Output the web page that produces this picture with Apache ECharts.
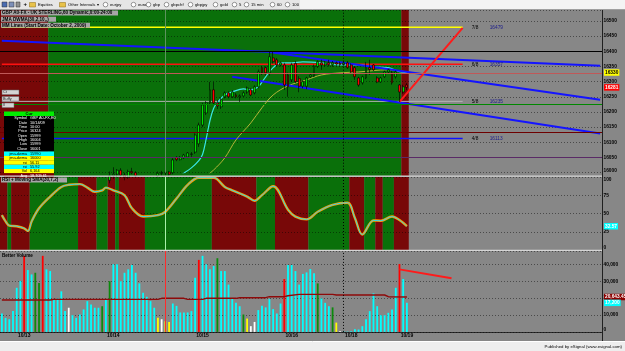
<!DOCTYPE html>
<html>
<head>
<meta charset="utf-8">
<title>GBP A0-FX</title>
<script src="https://cdn.jsdelivr.net/npm/echarts@6/dist/echarts.min.js"></script>
<style>
html, body { margin: 0; padding: 0; background: #878787; }
#main { width: 625px; height: 351px; }
</style>
</head>
<body>
<div id="main"></div>
<script>
// ---------- values ----------
var slotCount = 162;                       // bar slots across the plot (empty on the right)
var dayIdx = [6, 30, 54, 78, 94, 109];
var dayLabels = ['10/13', '10/14', '10/15', '10/16', '10/18', '10/19'];

// candles from bar 28 on: [open, close, low, high]
var candleStart = 28;
var candles = [
	[15960, 15975, 15950, 15990], [15975, 15990, 15965, 16004], [15990, 15995, 15980, 16018],
	[15995, 16008, 15985, 16012], [16008, 15992, 15988, 16015], [15992, 15985, 15975, 16000],
	[15985, 16004, 15980, 16010], [16004, 16000, 15995, 16016], [16000, 15990, 15985, 16005],
	[15990, 15980, 15970, 15998], [15980, 15985, 15960, 15992], [15985, 15975, 15970, 15995],
	[15975, 15985, 15965, 15990], [15985, 15990, 15975, 15998], [15990, 15998, 15985, 16004],
	[15998, 16000, 15990, 16006], [16000, 16002, 15992, 16008], [16002, 15995, 15990, 16006],
	[16000, 16042, 15995, 16048], [16050, 16043, 16038, 16055], [16043, 16050, 16040, 16055],
	[16049, 16058, 16045, 16062], [16052, 16065, 16048, 16068], [16060, 16062, 16052, 16068],
	[16068, 16124, 16062, 16130], [16095, 16157, 16085, 16165], [16157, 16223, 16150, 16230],
	[16197, 16230, 16190, 16236], [16230, 16273, 16225, 16299], [16273, 16230, 16223, 16299],
	[16230, 16220, 16210, 16240], [16217, 16240, 16210, 16248], [16250, 16263, 16245, 16268],
	[16263, 16250, 16245, 16268], [16250, 16266, 16246, 16272], [16256, 16250, 16245, 16262],
	[16250, 16253, 16233, 16258], [16253, 16263, 16250, 16268], [16266, 16279, 16260, 16284],
	[16273, 16256, 16252, 16278], [16263, 16283, 16258, 16288], [16283, 16332, 16278, 16340],
	[16346, 16329, 16322, 16352], [16346, 16329, 16320, 16350], [16329, 16382, 16320, 16398],
	[16378, 16366, 16360, 16398], [16372, 16355, 16350, 16378], [16355, 16362, 16350, 16366],
	[16355, 16289, 16273, 16362], [16322, 16283, 16250, 16330], [16306, 16355, 16299, 16362],
	[16360, 16300, 16295, 16368], [16310, 16285, 16265, 16318], [16285, 16300, 16278, 16305],
	[16285, 16312, 16275, 16316], [16316, 16322, 16312, 16326], [16318, 16350, 16315, 16356],
	[16350, 16366, 16345, 16370], [16362, 16355, 16339, 16372], [16355, 16362, 16350, 16368],
	[16362, 16356, 16350, 16372], [16356, 16362, 16349, 16368], [16362, 16358, 16352, 16366],
	[16360, 16356, 16350, 16366], [16356, 16362, 16352, 16366], [16362, 16346, 16342, 16368],
	[16355, 16332, 16328, 16360], [16346, 16316, 16306, 16350], [16312, 16289, 16283, 16316],
	[16296, 16316, 16290, 16320], [16312, 16346, 16308, 16365], [16346, 16340, 16322, 16372],
	[16355, 16339, 16335, 16358], [16312, 16299, 16295, 16318], [16299, 16312, 16296, 16316],
	[16316, 16332, 16312, 16336], [16332, 16339, 16328, 16342], [16329, 16296, 16290, 16335],
	[16316, 16332, 16310, 16336], [16289, 16266, 16233, 16292], [16266, 16283, 16260, 16290],
	[16289, 16281, 16272, 16295]
];

// JMA / DWMA curves, [bar, price] knots
var jmaFast = [[46, 15970], [48, 15990], [51, 16016], [53, 16040], [54, 16060], [55, 16112], [56, 16172],
	[57, 16212], [58, 16232], [60, 16256], [62, 16266], [65, 16276], [67, 16273], [69, 16283], [71, 16316],
	[73, 16346], [75, 16362], [78, 16362], [81, 16365], [86, 16362], [91, 16355], [96, 16355], [100, 16349],
	[104, 16346], [107, 16333], [109, 16330]];
var dwmaSlow = [[52, 15960], [55, 15989], [57, 16009], [60, 16049], [63, 16108], [67, 16164], [70, 16214],
	[73, 16256], [77, 16286], [82, 16306], [86, 16322], [91, 16329], [96, 16332], [104, 16339], [109, 16332]];

// hand drawn lines, [bar, price]
var trendA = [[0, 16435], [161, 16352]];
var trendB = [[72, 16398], [161, 16240]];
var trendC = [[62, 16316], [161, 16129]];
var redArrow = [[107, 16233], [124, 16477]];

// Murrey math levels
var mmNames = ['7/8', '6/8', '5/8', '4/8'];
var mmValues = [16479, 16357, 16235, 16113];
var mmEnd = 124;

// full width levels
var pivotValues = [16400, 16328, 16226, 16133, 16051];

// background state runs [fromBar, toBar (excl), state]
var priceBgRuns = [[0, 13, 'r'], [13, 108, 'g'], [108, 110, 'r']];
var rsiBgRuns = [[0, 2, 'r'], [2, 3, 'g'], [3, 8, 'r'], [8, 21, 'g'], [21, 26, 'r'], [26, 29, 'g'],
	[29, 31, 'r'], [31, 32, 'g'], [32, 39, 'r'], [39, 57, 'g'], [57, 69, 'r'], [69, 74, 'g'], [74, 83, 'r'],
	[83, 94, 'g'], [94, 98, 'r'], [98, 101, 'g'], [101, 103, 'r'], [103, 106, 'g'], [106, 110, 'r']];

// RSI, [bar, value]
var rsi = [[0, 47.7], [1, 39.2], [2, 33.5], [4, 32.6], [6, 29.7], [7, 25.9], [8, 39], [10, 57.1], [13, 73.2],
	[16, 86.4], [18, 89.3], [21, 90.2], [23, 85.5], [25, 79.8], [27, 81.7], [28, 85.5], [30, 81.7], [33, 75.1],
	[35, 57.1], [38, 45.8], [42, 47.7], [44, 52.4], [47, 70.4], [50, 89.3], [53, 99], [57, 99], [60, 86.4],
	[62, 81.7], [66, 73.2], [68, 67.5], [70, 75.1], [73, 87.4], [77, 55.2], [79, 45.8], [82, 42], [85, 52.4],
	[89, 61.8], [93, 64.7], [95, 43.9], [97, 21.2], [100, 40.5], [102, 40.1], [105, 45.8], [107, 41], [109, 32.57]];

// Better Volume, one value per bar
var volume = [
	10900, 8300, 7500, 12300, 26100, 30100, 45000, 36600, 34000, 35000,
	29000, 45000, 37000, 36000, 19000, 19800, 24000, 12300, 14300, 9900,
	8300, 10300, 13300, 18200, 16200, 14300, 14300, 15200, 19200, 30000,
	40000, 40000, 30000, 35000, 37000, 39600, 35000, 28700, 23200, 20800,
	18200, 14300, 8300, 7500, 6300, 5900, 16800, 15400, 11500, 11500,
	11500, 12300, 32000, 42600, 45000, 40000, 37000, 39000, 43600, 36000,
	36000, 28000, 20000, 17200, 15200, 10300, 7900, 3400, 5900, 12900,
	15400, 14500, 19400, 13500, 10900, 16800, 31300, 39600, 39600, 36000,
	28000, 34300, 35200, 37200, 34700, 28700, 19800, 17200, 15200, 14500,
	5500, 400, 300, 200, 400, 1600, 1400, 3400, 7500, 12300,
	22800, 15200, 9900, 9900, 11300, 13300, 26100, 40200, 31300, 17200
];
// bar kind: c normal, r red, g green, w white, y yellow
var volKinds = 'ccccccrccg' + 'grccccccwc' + 'cccccccgcg' + 'cccccccccc' + 'ccywyycccc' +
	'cccrccccgc' + 'cccccgywwc' + 'ccccccrccc' + 'cccccgcccg' + 'ywcccccccc' + 'cccccccrcc';
var volAvg = [[0, 18880], [13, 18880], [14, 19270], [42, 19270], [43, 19870], [49, 19870], [50, 19270],
	[54, 19270], [55, 19870], [63, 19870], [64, 20240], [71, 20240], [72, 20830], [76, 20830], [77, 21420],
	[80, 22200], [89, 22200], [90, 21830], [103, 21830], [104, 20830], [109, 20643.45]];
var volArrow = [[107, 37000], [121, 31800]];

// texts
var toolbarItems = ['Equities', 'Other Intervals \u25be', 'eurjpy', 'euro', 'gbp', 'gbpchf', 'gbpjpy', 'gold', '5', '15 min', '60', '100'];
var priceTitles = ['GBP A0-FX - UK STERLING,60 Dynamic,0:00-24:00', 'JMA DWMA(30,2,10,,)', 'MM Lines (Start Date: October 2, 2009)'];
var dwRows = [['Symbol', 'GBP A0-FX,E0'], ['Date', '10/14/09'], ['Time', '10:00'], ['Price', '16324'],
	['Open', '15999'], ['High', '16004'], ['Low', '15999'], ['Close', '16001']];
var dwStudies = [['jma-dwma', '15990'], ['jma-dwma', '16000'], ['rsi', '56.11'], ['rsi', '55.92'], ['Vol', '6,164'], ['Avg', '18,709.61']];

// ---------- layout / styles ----------
var W = 602;
var PRICE_TOP = 10, PRICE_BOTTOM = 176, PRICE_H = 162.7;
var RSI_TOP = 177, RSI_H = 73;
var VOL_TOP = 251, VOL_H = 80.9;
var FONT = 'Liberation Sans';
var bgColor = { r: '#780808', g: '#0a700a' };
var volColors = { c: '#00ffff', r: '#ff0000', g: '#0b8a0b', w: '#ffffff', y: '#ffff00' };
var mmColors = ['#ffff00', '#ff1010', '#b4b4b4', '#1010ff'];
var pivotColors = ['#000000', '#c05858', '#008800', '#6e0000', '#5a2a66'];
var studyFill = ['#00ffff', '#ffff00', '#ffff00', '#00ffff', '#ffff00', '#7a0000'];

var cats = [];
for (var i = 0; i < slotCount; i++) cats.push(String(i));

function xAxisFor(gi, showLabels) {
	return {
		type: 'category', gridIndex: gi, data: cats, boundaryGap: true,
		axisLine: { show: showLabels, lineStyle: { color: '#2a2a2a' } },
		axisTick: { show: false },
		splitLine: { show: false },
		axisLabel: showLabels ? {
			interval: function (idx) { return dayIdx.indexOf(idx) >= 0; },
			formatter: function (v, idx) { var k = dayIdx.indexOf(idx); return k >= 0 ? dayLabels[k] : ''; },
			color: '#000', fontSize: 5, fontWeight: 'bold', fontFamily: FONT, margin: 1.5
		} : { show: false }
	};
}

function yAxisFor(gi, min, max, step, fmt, showMax) {
	return {
		type: 'value', gridIndex: gi, position: 'right', min: min, max: max, interval: step, z: 1.5,
		axisLine: { show: true, lineStyle: { color: '#1e1e1e' } },
		axisTick: { show: false },
		splitLine: { show: true, lineStyle: { color: '#000', type: [1, 2], width: 0.6, opacity: 0.75 } },
		axisLabel: {
			color: '#000', fontSize: 4.8, fontWeight: 'bold', fontFamily: FONT, margin: 1.5,
			showMaxLabel: showMax, verticalAlignMaxLabel: 'top', verticalAlignMinLabel: 'bottom', formatter: fmt
		}
	};
}

function bgSeries(gi, runs, top, bottom) {
	return {
		type: 'custom', xAxisIndex: gi, yAxisIndex: gi, z: 1, silent: true, clip: false,
		data: runs.map(function (r) { return [r[0], r[1]]; }),
		renderItem: function (params, api) {
			var r = runs[params.dataIndex];
			var band = api.size([1, 0], [r[0], 0])[0];
			var x0 = api.coord([r[0], 0])[0] - band / 2;
			var x1 = api.coord([r[1] - 1, 0])[0] + band / 2;
			return { type: 'rect', shape: { x: x0, y: top, width: x1 - x0, height: bottom - top }, style: { fill: bgColor[r[2]] } };
		}
	};
}

function lineSeries(gi, data, color, width, extra) {
	var s = {
		type: 'line', xAxisIndex: gi, yAxisIndex: gi, data: data, showSymbol: false, silent: true,
		lineStyle: { color: color, width: width }, itemStyle: { color: color }, z: 3
	};
	for (var k in extra) s[k] = extra[k];
	return s;
}

function vLine(idx, color, type) {
	return { xAxis: String(idx), lineStyle: { color: color, width: 1, type: type } };
}

// value tag on the right axis: invisible line, boxed label at its end
function tag(value, text, bg, fg) {
	return {
		yAxis: value, lineStyle: { color: 'rgba(0,0,0,0)', width: 0 },
		label: {
			show: true, position: 'end', distance: 2, opacity: 1, formatter: function () { return text; },
			backgroundColor: bg, color: fg, fontSize: 4.8, fontWeight: 'bold', fontFamily: FONT, padding: [1, 1, 0.5, 1]
		}
	};
}

function fmtThousands(v) { return v.toLocaleString('en-US'); }
function fmtPlain(v) { return String(v); }

var lastClose = candles[candles.length - 1][1];
var lastFast = jmaFast[jmaFast.length - 1][1];
var lastRsi = rsi[rsi.length - 1][1];
var lastVol = volume[volume.length - 1];
var lastAvg = volAvg[volAvg.length - 1][1];

var series = [];
series.push(bgSeries(0, priceBgRuns, PRICE_TOP, PRICE_BOTTOM));
series.push(bgSeries(1, rsiBgRuns, RSI_TOP, RSI_TOP + RSI_H));

// Murrey lines with end labels
mmValues.forEach(function (v, k) {
	series.push(lineSeries(0, [[0, v], [mmEnd, v]], mmColors[k], k === 2 ? 1 : 1.5, {
		endLabel: {
			show: true, distance: 9,
			formatter: function () { return '{a|' + mmNames[k] + '}{b|' + v + '}'; },
			rich: {
				a: { color: '#000', fontSize: 4.8, fontFamily: FONT, width: 18 },
				b: { color: '#1c1c8c', fontSize: 4.8, fontFamily: FONT }
			}
		}
	}));
});

series.push({
	type: 'candlestick', xAxisIndex: 0, yAxisIndex: 0, z: 3, silent: true, barWidth: 2.4,
	encode: { x: 0, y: [1, 2, 3, 4] },
	data: candles.map(function (c, k) { return [candleStart + k].concat(c); }),
	itemStyle: { color: '#00e000', color0: '#ff0000', borderColor: '#000', borderColor0: '#000', borderWidth: 0.6 },
	markLine: {
		silent: true, symbol: ['none', 'none'], animation: false, label: { show: false },
		data: pivotValues.map(function (v, k) {
			return { yAxis: v, lineStyle: { color: pivotColors[k], width: 1, type: 'solid' } };
		}).concat([
			vLine(44, '#5e935e', 'solid'), vLine(92, '#000', [1, 2]),
			tag(lastFast, String(lastFast), '#ffff00', '#000'),
			tag(lastClose, String(lastClose), '#ff0000', '#ffffff')
		])
	}
});
series.push(lineSeries(0, dwmaSlow, '#b4b43a', 1, { smooth: 0.35 }));
series.push(lineSeries(0, jmaFast, '#3ae6e6', 1.2, { smooth: 0.35 }));
series.push(lineSeries(0, trendA, '#1414ff', 2));
series.push(lineSeries(0, trendB, '#1414ff', 2));
series.push(lineSeries(0, trendC, '#1414ff', 2));
series.push(lineSeries(0, redArrow, '#ff1a1a', 2));

// RSI
series.push(lineSeries(1, rsi, '#ff9a00', 2.4, { smooth: 0.35 }));
series.push(lineSeries(1, rsi, '#36d8e6', 1, {
	smooth: 0.35,
	markLine: {
		silent: true, symbol: ['none', 'none'], animation: false, label: { show: false },
		data: [vLine(44, '#a8f0a8', 'solid'), vLine(92, '#000', [1, 2]),
			tag(lastRsi, String(lastRsi), '#00ffff', '#ffffff')]
	}
}));

// Volume
series.push({
	type: 'bar', xAxisIndex: 2, yAxisIndex: 2, z: 3, silent: true, barWidth: 1.8,
	data: volume.map(function (v, k) { return { value: v, itemStyle: { color: volColors[volKinds[k]] } }; }),
	markLine: {
		silent: true, symbol: ['none', 'none'], animation: false, label: { show: false },
		data: [vLine(44, '#ff2a2a', 'solid'), vLine(92, '#000', [1, 2]),
			tag(lastAvg, fmtThousands(lastAvg), '#8b0000', '#ffffff'),
			tag(lastVol, fmtThousands(lastVol), '#00ffff', '#ffffff')]
	}
});
series.push(lineSeries(2, volAvg, '#8e0a0a', 1.4));
series.push(lineSeries(2, volArrow, '#ff1a1a', 2));

// ---------- overlay graphics ----------
var g = [];
function txt(x, y, s, size, color, align, weight) {
	g.push({ type: 'text', x: x, y: y, z: 20, silent: true,
		style: { text: s, fill: color || '#000', font: (weight || 'bold') + ' ' + size + 'px "' + FONT + '"',
			textAlign: align || 'left', textVerticalAlign: 'middle' } });
}
function box(x, y, w, h, fill, stroke) {
	g.push({ type: 'rect', z: 19, silent: true, shape: { x: x, y: y, width: w, height: h },
		style: { fill: fill, stroke: stroke || null, lineWidth: 0.5 } });
}

// toolbar
box(0, 0, 625, 9.5, '#f4f4f4');
box(0, 0, 300, 9, '#e6e6e6');
g.push({ type: 'line', z: 19, silent: true, shape: { x1: 0, y1: 9.5, x2: 625, y2: 9.5 }, style: { stroke: '#a0a0a0', lineWidth: 1 } });
box(2, 2, 5, 5, '#4a6cb0', '#333');
box(9, 2, 5, 5, '#7c8fb8', '#333');
box(16, 2, 4, 5, '#909090', '#333');
txt(23.5, 4.6, '+', 6, '#000');
var tbX = [38, 68, 110, 138, 153, 171, 195, 220, 239, 251, 277, 292];
toolbarItems.forEach(function (s, k) {
	if (k < 2) box(tbX[k] - 8.5, 2.5, 6, 4.5, '#e8c24a', '#8a6a10');
	else g.push({ type: 'circle', z: 19, silent: true, shape: { cx: tbX[k] - 4.5, cy: 4.6, r: 2.3 }, style: { fill: '#fff', stroke: '#555', lineWidth: 0.6 } });
	txt(tbX[k], 4.7, s, 4.2, '#000', 'left', 'normal');
});

// panel titles
var titleW = [117, 55, 89];
priceTitles.forEach(function (s, k) {
	box(1, 10.6 + k * 6.1, titleW[k], 5, '#a6a6a6');
	txt(2, 13.2 + k * 6.1, s, 4.6);
});
box(1, 177.4, 66, 5, '#a6a6a6');
txt(2, 180, 'RSI + Moving SMA(30,7,2)', 4.6);
txt(2, 255.5, 'Better Volume', 4.6);

// small input boxes on the left
['Ct', 'Buffy', 'll'].forEach(function (s, k) {
	box(2, 90 + k * 6.5, k === 2 ? 12 : 17, 4.6, '#d4d4d4', '#666');
	txt(3, 92.4 + k * 6.5, s, 3.8, '#222', 'left', 'normal');
});

// data window
box(4, 111.5, 50, 4.5, '#00ee00');
txt(29, 113.8, 'Cur', 4, '#000', 'center');
box(4, 116, 50, 35.5, '#000');
dwRows.forEach(function (r, k) {
	var y = 118.2 + k * 4.35;
	txt(27, y, r[0], 3.8, '#fff', 'right', 'normal');
	txt(30, y, r[1], 3.8, '#fff', 'left', 'normal');
});
dwStudies.forEach(function (r, k) {
	var y = 151.6 + k * 4.35;
	box(4, y, 50, 4.35, studyFill[k]);
	var c = k === 5 ? '#fff' : '#000';
	txt(27, y + 2.2, r[0], 3.8, c, 'right', 'normal');
	txt(30, y + 2.2, r[1], 3.8, c, 'left', 'normal');
});

// panel separators, axis line, status bar
box(0, 175.6, W, 1.2, '#d6d6d6');
box(0, 249.8, W, 1.2, '#d6d6d6');
g.push({ type: 'line', z: 18, silent: true, shape: { x1: W + 0.5, y1: 10, x2: W + 0.5, y2: 341 }, style: { stroke: '#202020', lineWidth: 1 } });
box(0, 341.5, 625, 9.5, '#eeeeee');
g.push({ type: 'line', z: 19, silent: true, shape: { x1: 0, y1: 341.5, x2: 625, y2: 341.5 }, style: { stroke: '#ffffff', lineWidth: 1 } });
txt(622, 347, 'Published by eSignal (www.esignal.com)', 4.3, '#000', 'right', 'normal');

var option = {
	backgroundColor: '#878787',
	animation: false,
	grid: [
		{ left: 0, top: PRICE_TOP, width: W, height: PRICE_H },
		{ left: 0, top: RSI_TOP, width: W, height: RSI_H },
		{ left: 0, top: VOL_TOP, width: W, height: VOL_H }
	],
	xAxis: [xAxisFor(0, false), xAxisFor(1, false), xAxisFor(2, true)],
	yAxis: [
		yAxisFor(0, 16000, 16536, 50, fmtPlain, false),
		yAxisFor(1, 0, 100, 25, fmtPlain, true),
		yAxisFor(2, 0, 47870, 10000, fmtThousands, false)
	],
	series: series,
	graphic: { elements: g }
};

var chart = echarts.init(document.getElementById('main'), null, { renderer: 'canvas' });
chart.setOption(option);
</script>
</body>
</html>
